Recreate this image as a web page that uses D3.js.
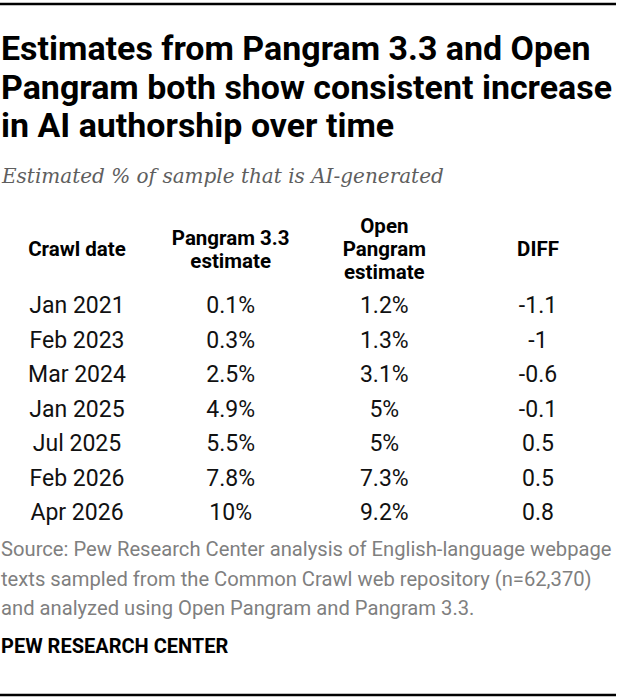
<!DOCTYPE html>
<html lang="en">
<head>
    <meta charset="UTF-8">
    <title>AI authorship estimates</title>
    <script src="https://d3js.org/d3.v7.min.js"></script>
    <style>
        body { margin: 0; background: #fff; }
    </style>
</head>
<body>
    <script>
    // table data
    var crawlDates = ["Jan 2021", "Feb 2023", "Mar 2024", "Jan 2025", "Jul 2025", "Feb 2026", "Apr 2026"];
    var pangram33 = [0.1, 0.3, 2.5, 4.9, 5.5, 7.8, 10];
    var openPangram = [1.2, 1.3, 3.1, 5, 5, 7.3, 9.2];
    var diff = [-1.1, -1, -0.6, -0.1, 0.5, 0.5, 0.8];

    var columns = ["date", "p33", "open", "diff"];
    var headers = [["Crawl date"], ["Pangram 3.3", "estimate"], ["Open", "Pangram", "estimate"], ["DIFF"]];

    var titleLines = ["Estimates from Pangram 3.3 and Open",
                      "Pangram both show consistent increase",
                      "in AI authorship over time"];
    var subtitle = "Estimated % of sample that is AI-generated";
    var sourceLines = ["Source: Pew Research Center analysis of English-language webpage",
                       "texts sampled from the Common Crawl web repository (n=62,370)",
                       "and analyzed using Open Pangram and Pangram 3.3."];

    var sans = "Roboto, 'Noto Sans', sans-serif";
    var W = 620, H = 700;
    var svg = d3.select("body").append("svg")
        .attr("width", W)
        .attr("height", H)
        .style("font-family", sans);

    // rules top and bottom
    svg.append("line").attr("x1", 0).attr("x2", 616).attr("y1", 4).attr("y2", 4)
        .attr("stroke", "#000").attr("stroke-width", 2.5);
    svg.append("line").attr("x1", 0).attr("x2", 616).attr("y1", 695).attr("y2", 695)
        .attr("stroke", "#000").attr("stroke-width", 2.5);

    // squeeze a text horizontally so it is as wide as target (mimics condensed font)
    function squeeze(sel, target) {
        sel.each(function() {
            var w = this.getComputedTextLength();
            if (w > target) {
                d3.select(this).attr("textLength", target).attr("lengthAdjust", "spacingAndGlyphs");
            }
        });
    }

    // title
    var title = svg.append("g");
    title.selectAll("text")
        .data(titleLines)
        .enter()
        .append("text")
        .attr("x", 1)
        .attr("y", function(d, i) { return 60 + i * 38.5; })
        .attr("font-size", 34)
        .attr("font-weight", 700)
        .attr("fill", "#000")
        .text(function(d) { return d; });
    // one scale for all title lines, based on the widest
    var maxW = d3.max(title.selectAll("text").nodes(), function(n) { return n.getComputedTextLength(); });
    var k = Math.min(1, 611 / maxW);
    title.selectAll("text").each(function() {
        var w = this.getComputedTextLength();
        if (k < 1) d3.select(this).attr("textLength", w * k).attr("lengthAdjust", "spacingAndGlyphs");
    });

    svg.append("text")
        .attr("x", 2)
        .attr("y", 183)
        .style("font-family", "'DejaVu Serif', 'Liberation Serif', serif")
        .style("font-style", "italic")
        .attr("font-size", 20)
        .attr("fill", "#5e5e5e")
        .text(subtitle)
        .call(squeeze, 468);

    // columns and rows
    var x = d3.scalePoint().domain(columns).range([77, 538]);
    var y = d3.scalePoint().domain(crawlDates).range([313, 520]);

    var head = svg.append("g").selectAll("text")
        .data(headers)
        .enter()
        .append("text")
        .attr("text-anchor", "middle")
        .attr("font-size", 20.5)
        .attr("font-weight", 700)
        .attr("fill", "#000")
        .attr("transform", function(d, i) {
            // bottom line sits lower when there are more lines
            var top = 256 - (d.length - 1) * 11.5;
            return "translate(" + x(columns[i]) + "," + top + ")";
        });
    head.selectAll("tspan")
        .data(function(d) { return d; })
        .enter()
        .append("tspan")
        .attr("x", 0)
        .attr("y", function(d, i) { return i * 23; })
        .text(function(d) { return d; });

    var rows = crawlDates.map(function(d, i) {
        return { date: d, p33: pangram33[i] + "%", open: openPangram[i] + "%", diff: String(diff[i]) };
    });

    var rowG = svg.append("g").selectAll("g")
        .data(rows)
        .enter()
        .append("g")
        .attr("transform", function(d) { return "translate(0," + y(d.date) + ")"; });

    rowG.selectAll("text")
        .data(function(d) { return columns.map(function(c) { return { col: c, val: d[c] }; }); })
        .enter()
        .append("text")
        .attr("x", function(d) { return x(d.col); })
        .attr("text-anchor", "middle")
        .attr("font-size", 23)
        .attr("fill", "#111")
        .text(function(d) { return d.val; });

    // source + credit
    svg.append("g").selectAll("text")
        .data(sourceLines)
        .enter()
        .append("text")
        .attr("x", 1)
        .attr("y", function(d, i) { return 556 + i * 29.5; })
        .attr("font-size", 20.2)
        .attr("fill", "#7f7f7f")
        .text(function(d) { return d; })
        .call(squeeze, 612);

    svg.append("text")
        .attr("x", 1)
        .attr("y", 653)
        .attr("font-size", 20)
        .attr("font-weight", 700)
        .attr("fill", "#000")
        .text("PEW RESEARCH CENTER")
        .call(squeeze, 229);
    </script>
</body>
</html>
